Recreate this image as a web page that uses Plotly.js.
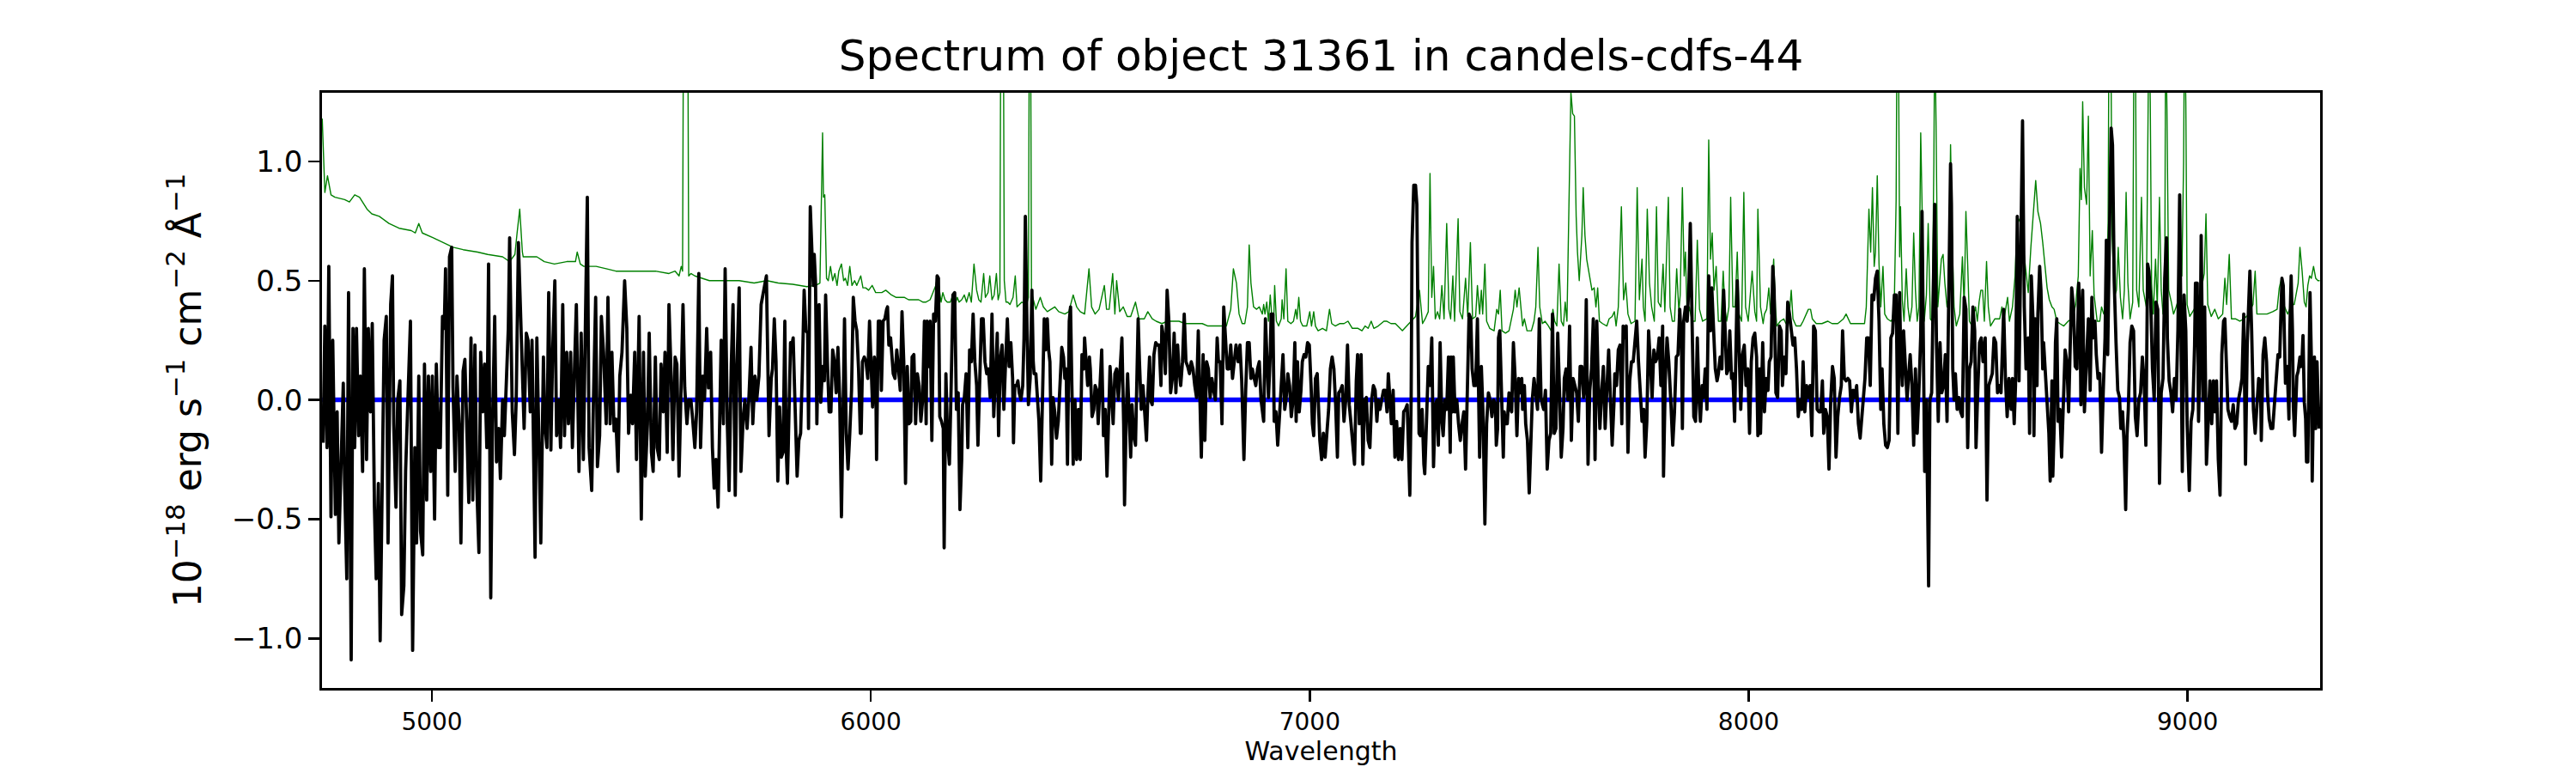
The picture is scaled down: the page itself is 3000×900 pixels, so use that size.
<!DOCTYPE html>
<html>
<head>
<meta charset="utf-8">
<script src="https://cdn.plot.ly/plotly-3.0.1.min.js"></script>
<style>
html, body { margin: 0; padding: 0; background: #ffffff; }
#chart { width: 3000px; height: 900px; }
.scatterlayer path.js-line { stroke-linejoin: round; }
</style>
</head>
<body>
<div id="chart"></div>
<script>
// Observed flux: [wavelength (Å), flux (1e-18 erg/s/cm2/Å)]
const fluxPoints = [
[4752,-0.18],[4756,0.31],[4761,-0.2],[4765,0.56],[4770,-0.49],[4774,0.25],[4780,-0.48],[4784,-0.05],[4788,-0.6],[4792,-0.3],[4798,0.07],[4801,-0.35],[4806,-0.75],[4810,0.45],[4816,-1.09],[4820,0.3],[4824,-0.2],[4828,0.3],[4833,-0.15],[4837,0.1],[4842,-0.3],[4846,0.55],[4851,-0.25],[4855,0.3],[4860,-0.05],[4864,0.32],[4869,-0.45],[4873,-0.75],[4878,-0.35],[4882,-1.01],[4887,-0.35],[4891,0.25],[4896,0.35],[4900,-0.6],[4906,0.4],[4910,0.52],[4913,-0.1],[4918,-0.45],[4922,0],[4927,0.08],[4931,-0.9],[4936,-0.78],[4940,-0.3],[4946,0],[4951,0.33],[4956,-1.05],[4961,-0.2],[4965,-0.6],[4970,0.1],[4974,-0.55],[4979,-0.65],[4983,0.15],[4988,-0.42],[4992,0.1],[4997,-0.3],
[5001,0.1],[5006,-0.5],[5010,0.15],[5015,-0.2],[5019,-0.2],[5024,0.35],[5028,0.3],[5031,0.55],[5036,-0.4],[5040,0.6],[5045,0.64],[5048,0.05],[5053,-0.3],[5057,0.1],[5062,-0.1],[5066,-0.6],[5071,0.12],[5075,0.17],[5080,-0.15],[5084,-0.43],[5089,0.26],[5093,-0.42],[5098,0.23],[5102,-0.35],[5107,-0.64],[5111,0.2],[5116,-0.05],[5120,0.15],[5125,-0.2],[5129,0.57],[5134,-0.83],[5138,-0.1],[5143,0.35],[5147,-0.26],[5152,-0.12],[5156,-0.33],[5161,0],[5165,-0.15],[5170,0.1],[5174,0.3],[5177,0.68],[5183,-0.05],[5188,-0.23],[5192,0],[5197,0.66],[5201,0.45],[5206,0.15],[5210,-0.12],[5215,0.28],[5219,0.25],[5224,-0.05],[5228,0.25],[5235,-0.66],[5239,0.26],[5244,-0.2],[5248,-0.6],[5254,0.18],[5257,-0.1],[5262,-0.2],[5266,0.45],[5271,-0.21],[5275,0.2],[5280,0.5],[5284,-0.15],[5289,0],[5293,-0.2],[5298,0.4],[5302,-0.15],[5307,0.2],[5311,-0.1],[5316,0.2],[5320,-0.2],[5325,0.15],[5329,0.4],[5335,-0.3],[5340,0.28],[5345,-0.25],[5349,0.2],[5354,0.85],[5358,-0.2],[5364,-0.38],[5368,0],[5373,0.43],[5377,-0.28],[5382,-0.15],[5386,0.35],[5391,0.2],[5397,-0.1],[5401,0.43],[5406,-0.1],[5410,0.2],[5415,-0.13],[5419,-0.08],[5424,-0.3],[5428,0.1],[5433,0.2],[5439,0.5],[5444,0.3],[5448,-0.14],[5453,0.02],[5457,-0.1],[5462,0.2],[5466,-0.25],[5472,0.35],[5477,-0.5],[5482,0.2],[5486,-0.32],[5491,-0.1],[5495,0.28],[5500,-0.22],[5504,-0.3],[5509,0.18],[5513,-0.2],[5518,-0.25],[5522,0.15],[5527,-0.05],[5531,0.2],[5536,-0.22],[5540,0.4],[5545,0.1],[5549,-0.25],[5554,0.18],[5558,0.15],[5563,-0.32],[5567,-0.05],[5572,0.4],[5576,0.05],[5581,-0.1],[5585,0],[5590,0],[5594,-0.08],[5599,-0.2],[5603,-0.05],[5608,0.53],[5612,-0.2],[5617,0.1],[5621,0],[5626,0.3],[5630,0.05],[5635,0.2],[5639,-0.2],[5643,-0.37],[5647,-0.25],[5652,-0.45],[5655,-0.15],[5659,0.25],[5664,-0.1],[5668,0.55],[5673,-0.1],[5677,-0.38],[5682,0.15],[5686,0.4],[5691,-0.4],[5695,0.15],[5700,0.47],[5704,-0.3],[5709,-0.08],[5713,0],[5718,-0.12],[5722,0],[5727,0.22],[5731,-0.1],[5736,0.1],[5740,0],[5745,0.1],[5750,0.4],
[5762,0.52],[5768,-0.15],[5773,0.09],[5776,0.13],[5780,0.34],[5784,0.16],[5788,-0.34],[5792,-0.03],[5796,-0.24],[5800,-0.22],[5804,0.33],[5807,-0.2],[5810,-0.35],[5814,0.06],[5817,0.24],[5820,0.23],[5823,0.26],[5826,0.06],[5828,-0.12],[5832,-0.32],[5836,-0.17],[5840,-0.14],[5844,0.13],[5848,0.46],[5852,0.29],[5856,0.28],[5858,-0.12],[5862,0.81],[5866,0.61],[5869,0.48],[5871,0.61],[5874,0.49],[5877,-0.1],[5879,0.16],[5882,0.4],[5886,-0.01],[5890,0.14],[5894,0.08],[5897,0.44],[5901,0.16],[5905,-0.05],[5909,-0.05],[5913,0.21],[5917,0.16],[5921,0.03],[5925,0.22],[5929,0.01],[5933,-0.49],[5937,-0.04],[5940,0.34],[5944,-0.14],[5948,-0.29],[5952,-0.14],[5956,0.04],[5960,0.43],[5964,0.33],[5968,0.29],[5972,0.13],[5976,-0.14],[5978,-0.14],[5981,0.16],[5985,0.18],[5989,0.16],[5993,0.09],[5997,0.33],
[6000,0.19],[6004,-0.03],[6008,0.18],[6011,0.13],[6013,-0.25],[6017,0.33],[6021,0.33],[6024,0.04],[6028,0.33],[6032,0.34],[6036,0.38],[6038,0.39],[6041,0.23],[6045,0.26],[6049,0.16],[6051,0.11],[6055,0.09],[6059,0.21],[6063,0.13],[6067,0.04],[6071,0.37],[6075,0.16],[6079,-0.35],[6083,0.14],[6087,-0.1],[6091,-0.09],[6094,0.18],[6098,0.19],[6102,-0.1],[6106,0.11],[6110,0.06],[6114,-0.09],[6118,0],[6122,0.33],[6126,-0.1],[6128,0.33],[6132,0.14],[6135,0.33],[6139,-0.17],[6143,0.36],[6147,0.33],[6151,0.52],[6154,0.51],[6157,-0.07],[6161,-0.09],[6165,-0.12],[6167,-0.62],[6171,0.11],[6175,-0.17],[6179,-0.27],[6183,0.06],[6187,0.44],[6191,0.45],[6195,-0.04],[6199,0.03],[6203,-0.46],[6207,-0.25],[6209,-0.02],[6213,0.01],[6217,0.11],[6221,-0.2],[6225,0.21],[6229,0.16],[6233,0.36],[6237,0.16],[6241,0.06],[6244,-0.19],[6248,0.13],[6252,0.34],[6256,0.34],[6260,0.16],[6264,0.11],[6268,0.13],[6272,0.01],[6276,0.36],[6280,-0.07],[6284,0.14],[6288,0.28],[6291,-0.15],[6295,0.17],[6299,0.23],[6303,-0.04],[6307,0.16],[6311,0.34],[6315,0.14],[6319,0.24],[6323,0.09],
[6325,-0.18],[6328,0.06],[6332,0.06],[6335,0.08],[6338,0.03],[6342,0],[6346,0.06],[6349,0.26],[6352,0.77],[6355,0.39],[6359,-0.02],[6363,0.09],[6367,0.46],[6370,0.16],[6372,0.11],[6376,0.11],[6380,0.01],[6383,-0.09],[6387,-0.34],[6389,-0.12],[6392,0.16],[6395,0.34],[6398,0.21],[6402,0.34],[6405,0.21],[6408,0.16],[6412,-0.27],[6415,0.01],[6419,-0.05],[6423,-0.16],[6427,-0.09],[6431,0.04],[6435,0.22],[6439,0.18],[6442,0.09],[6445,0.13],[6448,-0.27],[6452,0.33],[6455,0.39],[6458,0.06],[6461,-0.27],[6465,0],[6469,-0.25],[6473,-0.04],[6477,-0.25],[6481,0.19],[6485,0.13],[6487,0.26],[6490,0.19],[6494,0.06],[6498,0.18],[6500,0.13],[6504,-0.07],[6508,-0.04],[6511,0.06],[6515,0.04],[6518,-0.1],[6522,0.06],[6526,0.21],[6530,-0.15],[6534,-0.04],[6538,-0.32],[6542,-0.02],[6545,0.14],[6549,0],[6552,-0.1],[6556,0.11],[6560,0.13],[6564,0],[6568,0.11],[6572,0.26],[6576,-0.1],[6578,-0.44],[6582,-0.05],[6585,0.11],[6588,-0.04],[6592,-0.24],[6595,-0.02],[6599,-0.15],[6603,-0.19],[6606,0.13],[6609,0.34],[6612,0.16],[6616,-0.04],[6620,0.06],[6624,-0.04],[6628,-0.17],[6631,0.01],[6635,0.18],[6637,0],[6641,-0.02],[6645,0.19],[6649,0.24],[6653,0.23],[6657,0.23],[6661,0.06],[6663,0.31],[6667,0.26],[6671,0.11],[6675,0.46],[6679,0.33],[6683,0.03],[6687,0.09],[6691,0.28],[6695,0.03],[6699,0.23],[6702,0.13],[6706,0.06],[6710,0.16],[6714,0.36],[6718,0.16],[6722,0.14],[6726,0.11],[6730,0.16],[6734,0.13],[6738,0.06],[6742,0.01],[6746,0.29],[6749,0.06],[6753,-0.24],[6757,0.19],[6761,-0.17],[6765,0.16],[6769,0.13],[6773,0.01],[6777,0.09],[6781,0.04],[6785,0],[6789,0.26],[6792,0.16],[6796,0.16],[6800,-0.1],[6804,0.39],[6808,0.23],[6812,0.13],[6816,0.13],[6820,0.23],[6824,0.09],[6828,0.18],[6832,0.23],[6837,0.16],[6841,0.23],[6845,0.08],[6850,-0.25],[6854,0.04],[6858,0.24],[6862,0.24],[6866,0.09],[6869,0.13],[6873,0.09],[6877,0.06],[6881,0.13],[6885,0.16],[6889,0],
[6895,-0.09],[6899,0.34],[6903,0.16],[6906,0.01],[6910,0.19],[6912,0.36],[6916,0.36],[6919,-0.09],[6923,-0.05],[6927,-0.19],[6931,-0.07],[6935,0.06],[6939,0.19],[6943,-0.04],[6946,0],[6950,0.11],[6954,0.06],[6958,-0.07],[6962,0],[6966,0.24],[6969,-0.09],[6972,0.16],[6976,-0.05],[6980,0.04],[6983,0.16],[6987,0.19],[6991,0.18],[6995,0.24],[6999,0.23],[7003,0.06],[7006,-0.1],[7009,-0.15],[7013,0.09],[7017,0.11],[7019,0],[7023,-0.17],[7027,-0.25],[7031,-0.14],[7035,-0.24],[7039,-0.14],[7043,-0.04],[7047,0.13],[7051,0.18],[7055,0.13],[7059,-0.02],[7063,-0.24],[7066,0.03],[7070,0.04],[7074,0.06],[7078,-0.09],[7082,0],[7086,0.23],[7090,-0.02],[7094,-0.1],[7098,-0.19],[7102,-0.27],[7106,0.08],[7109,0.19],[7113,-0.1],[7117,0.19],[7121,-0.27],[7125,0],[7129,0.01],[7133,-0.17],[7137,-0.2],[7141,0],[7145,0.06],[7149,0.04],[7153,-0.09],[7156,0],[7160,-0.04],[7164,0.01],[7168,0.04],[7172,0.04],[7176,-0.05],[7179,0.11],[7183,0],[7186,-0.1],[7190,0.04],[7194,-0.24],[7198,-0.09],[7202,-0.25],[7206,-0.12],[7210,-0.25],[7214,-0.05],[7218,-0.04],[7222,-0.02],[7226,-0.25],[7228,-0.4],[7231,0],[7233,0.66],[7237,0.9],[7241,0.9],[7244,0.82],[7246,0.49],[7249,-0.14],[7252,-0.15],[7256,-0.04],[7260,-0.27],[7262,-0.31],[7266,-0.09],[7270,0.14],[7274,0.06],[7278,0.26],[7282,-0.28],[7286,-0.02],[7290,0],[7293,-0.19],[7297,0.24],[7301,-0.09],[7304,-0.15],[7308,0],[7312,-0.04],[7316,0.18],[7320,-0.22],[7322,0.18],[7325,-0.05],[7327,0.18],[7331,-0.05],[7335,0],[7339,-0.1],[7343,-0.17],[7347,-0.1],[7351,-0.05],[7355,-0.29],[7359,-0.02],[7363,0.36],[7367,0.34],[7370,0.13],[7374,0.06],[7378,0.06],[7382,0.34],[7385,0.08],[7387,-0.24],[7391,0.14],[7395,-0.07],[7399,-0.52],[7403,-0.1],[7407,0.03],[7411,0],[7415,-0.07],[7419,0],[7423,-0.02],[7425,-0.19],[7428,-0.12],[7430,0.26],[7433,0.29],[7437,-0.02],[7441,-0.24],[7443,-0.05],[7446,-0.1],[7450,-0.1],[7454,0.03],[7458,-0.04],
[7460,-0.05],[7464,0.24],[7468,0.09],[7472,-0.15],[7476,0.09],[7479,0.03],[7483,0.09],[7485,-0.04],[7489,0.06],[7492,-0.1],[7496,-0.17],[7500,-0.39],[7504,-0.17],[7507,0],[7511,0.09],[7515,0.01],[7519,-0.04],[7523,0.34],[7527,0.01],[7530,-0.02],[7533,-0.04],[7537,0.04],[7541,-0.29],[7545,-0.17],[7549,-0.14],[7553,0.36],[7557,-0.14],[7561,-0.12],[7565,0.28],[7569,0.04],[7573,-0.24],[7577,-0.12],[7580,0.09],[7584,0.13],[7588,0],[7592,0.31],[7596,-0.17],[7600,0.09],[7604,0.06],[7608,0.03],[7612,-0.09],[7616,0.14],[7620,0.14],[7624,0.01],[7627,0.06],[7630,0.42],[7634,-0.27],[7638,0.04],[7642,0.13],[7646,0.34],[7650,-0.25],[7654,0.33],[7657,0.09],[7661,-0.12],[7665,0.03],[7669,0.14],[7673,-0.12],[7677,0.03],[7681,0.21],[7685,0.01],[7689,-0.19],[7693,-0.02],[7695,0.11],[7699,0.06],[7703,0.21],[7707,0.23],[7711,-0.1],[7714,0.31],[7717,0.26],[7721,0.31],[7725,-0.22],[7729,0.08],[7733,0.16],[7737,0.16],[7741,0.23],[7745,0.33],[7749,0.16],[7753,0.03],[7757,-0.09],[7761,-0.04],[7764,-0.24],[7768,-0.09],[7772,0.29],[7776,0.16],[7780,0.01],[7784,0.21],[7788,0.16],[7792,0.18],[7796,0.26],[7800,0.06],[7804,0.31],[7806,-0.32],[7810,0.08],[7814,0.26],[7818,0.16],[7823,-0.02],[7827,-0.19],[7831,-0.05],[7835,0.18],[7839,0.19],[7843,0.38],[7847,0.23],[7849,-0.12],[7852,0.33],[7856,0.39],[7860,0.33],[7864,0.49],[7867,0.74],[7871,0.39],[7875,-0.07],[7879,-0.09],[7883,0.26],[7887,0],[7890,-0.09],[7894,0.06],[7897,0.01],[7901,0.13],[7905,-0.04],[7909,0.52],[7913,0.29],[7916,0.47],[7920,0.26],[7924,0.13],[7928,0.08],[7931,0.11],[7935,0.18],[7939,0.13],[7943,0.46],[7946,0.26],[7950,0.11],[7954,0.13],[7957,0.29],[7961,0.09],[7964,0.11],[7968,-0.09],[7972,0.34],[7974,0.5],[7978,0.23],[7982,-0.04],[7986,0.19],[7990,0.23],[7994,0.06],[7998,0.13],[8002,-0.14],[8006,0.16],[8010,0.26],[8014,0.28],[8018,0.18],[8021,-0.15],[8025,0.13],
[8027,-0.14],[8032,0.24],[8036,-0.05],[8040,0.09],[8044,0.04],[8047,0.16],[8051,0.18],[8055,0.56],[8058,0.46],[8062,0.03],[8066,0.01],[8070,0.31],[8074,0.29],[8077,0.06],[8081,0.18],[8085,0.11],[8089,0.41],[8093,0.36],[8097,0.29],[8101,0.23],[8105,0.26],[8109,0.13],[8113,-0.07],[8117,0],[8121,-0.04],[8124,0.16],[8128,-0.05],[8132,0.06],[8136,0.01],[8140,0.06],[8144,-0.15],[8148,0.31],[8152,0.29],[8156,-0.04],[8160,-0.05],[8164,-0.05],[8168,0.08],[8171,-0.14],[8175,-0.04],[8179,-0.07],[8183,-0.29],[8187,0],[8191,0.14],[8195,0.09],[8199,-0.24],[8203,-0.07],[8207,0.01],[8211,0.06],[8214,0.29],[8218,0.09],[8222,0.08],[8226,0.09],[8230,0.08],[8234,-0.05],[8238,0.04],[8242,0.01],[8246,0.06],[8250,-0.1],[8254,-0.16],[8258,-0.07],[8261,0],[8265,0.09],[8269,0.26],[8273,0.26],[8277,0.06],[8281,0.44],[8285,0.42],[8289,0.51],[8293,0.54],[8297,0.33],[8301,-0.04],[8304,0.13],[8308,-0.1],[8312,-0.19],[8316,-0.2],[8320,-0.17],[8324,0.26],[8328,0.28],[8332,0.44],[8336,0.44],[8340,-0.14],[8344,0.45],[8346,0.23],[8350,0.06],[8353,0.29],[8357,0.16],[8361,0],[8364,0.09],[8368,0.19],[8372,0.06],[8376,-0.19],[8380,0.13],[8384,-0.14],[8388,0.04],[8392,0.27],[8395,0.79],[8398,0.29],[8401,-0.3],[8405,0],[8408,-0.63],[8410,-0.78],[8413,0],[8417,0.03],[8421,0.49],[8424,0.82],[8428,0.23],[8432,-0.09],[8436,0.24],[8440,0.03],[8444,0.06],[8448,0.19],[8452,-0.09],[8456,0.39],[8460,0.99],[8462,0.82],[8465,0.13],[8468,0],[8471,0.11],[8475,-0.04],[8479,0.01],[8483,-0.05],[8487,-0.07],[8491,0.43],[8495,0.38],[8499,-0.2],[8503,0.13],[8507,0.16],[8511,0.39],[8515,0.29],[8518,-0.2],[8522,0.04],[8526,0.24],[8530,0.26],[8534,0.16],[8539,0.26],[8543,-0.42],[8547,0.06],[8551,0.09],[8555,0.11],[8559,0.26],[8563,0.24],[8567,0.03],[8571,0.06],[8575,0.03],[8578,0.23],[8581,0.38],[8585,0.09],[8589,-0.07],[8593,0.09],
[8598,-0.04],[8601,0.09],[8605,-0.1],[8608,0.06],[8612,0.77],[8616,0.08],[8620,0.66],[8624,1.17],[8628,0.39],[8632,0.13],[8635,0.16],[8637,0.26],[8640,-0.14],[8644,0.52],[8648,0.33],[8650,-0.15],[8653,0.34],[8657,0.06],[8659,0.36],[8663,0.56],[8666,0.46],[8670,0.13],[8672,0.24],[8676,0.13],[8680,0],[8684,-0.14],[8687,-0.34],[8691,0.08],[8693,-0.32],[8696,-0.12],[8699,0.24],[8702,0.34],[8705,-0.09],[8709,-0.04],[8713,-0.24],[8717,0.04],[8721,0.21],[8725,0.16],[8729,-0.05],[8732,0.18],[8736,0.47],[8740,0.39],[8744,0.14],[8748,0.13],[8752,0.49],[8755,0.34],[8757,-0.02],[8761,0.46],[8765,-0.05],[8768,0.09],[8770,0.16],[8774,0.34],[8778,0.04],[8782,0.43],[8785,0.26],[8789,0.33],[8792,0.19],[8796,0.09],[8800,0.11],[8804,-0.22],[8808,0.04],[8812,0.26],[8815,0.67],[8818,0.19],[8822,0.69],[8826,1.14],[8829,1.07],[8833,0.49],[8837,0.24],[8841,0.04],[8845,0.01],[8848,-0.12],[8852,-0.05],[8855,-0.17],[8859,-0.46],[8862,-0.15],[8865,-0.04],[8869,0.24],[8873,0.31],[8877,0.29],[8881,-0.07],[8885,-0.15],[8889,0],[8893,0.03],[8897,0.18],[8901,0.08],[8905,-0.19],[8909,0.57],[8912,0.54],[8916,0.42],[8920,0.13],[8924,0],[8928,0.41],[8932,0.38],[8936,-0.35],[8940,0.03],[8944,0.09],[8948,0.51],[8952,0.68],[8954,0.26],[8958,0.08],[8962,0.03],[8966,-0.05],[8970,0.09],[8974,0],[8978,0.29],[8982,0.86],[8985,0.33],[8988,-0.3],[8992,0.44],[8996,0.29],[8999,-0.1],[9004,-0.38],[9008,-0.09],[9012,-0.04],[9016,0.23],[9018,0.49],[9022,0.49],[9025,-0.09],[9029,0.26],[9031,0.69],[9035,0],[9039,0.39],[9043,-0.27],[9047,-0.09],[9051,0.08],[9055,-0.1],[9059,0.08],[9062,-0.05],[9066,0.08],[9070,-0.25],[9074,-0.4],[9078,0.19],[9082,0.33],[9085,0.34],[9089,0.06],[9092,-0.04],[9096,-0.07],[9100,-0.09],[9104,-0.02],[9108,-0.12],[9112,-0.1],[9116,0],[9120,0.04],[9124,0.09],[9128,0.36],[9132,-0.27],[9136,0.24],[9139,0.39],[9142,0.54],[9146,0.29],[9150,-0.04],[9154,-0.14],[9158,0],[9162,0.09],[9166,0.08],[9168,-0.17],[9172,0.19],[9176,0.26],[9180,0.16],
[9182,0.03],[9186,-0.08],[9190,-0.12],[9194,-0.12],[9198,-0.01],[9202,0.07],[9206,0.19],[9210,0.18],[9213,0.36],[9215,0.51],[9218,0.48],[9220,0.29],[9223,0.07],[9227,0.14],[9231,-0.08],[9233,0.29],[9236,0.52],[9239,0.29],[9241,-0.03],[9244,-0.15],[9246,-0.01],[9249,0.1],[9252,0.12],[9256,0.18],[9258,0.14],[9261,0.18],[9263,0.27],[9266,-0.01],[9269,-0.08],[9271,-0.26],[9274,-0.26],[9276,0.03],[9279,0.45],[9282,0.18],[9284,-0.34],[9287,0.03],[9289,0.18],[9292,-0.12],[9295,0.16],[9297,0.03],[9300,-0.12]
];

// Flux uncertainty (green): [wavelength (Å), sigma]
const errorPoints = [
[4750,1.18],[4756,0.87],[4762,0.94],[4770,0.86],[4779,0.85],[4801,0.84],[4812,0.83],[4824,0.86],[4835,0.85],[4852,0.8],[4863,0.78],[4880,0.77],[4902,0.74],[4925,0.72],[4953,0.71],[4962,0.7],[4970,0.74],[4978,0.7],[5003,0.68],[5026,0.66],[5048,0.64],[5071,0.63],[5104,0.62],[5127,0.61],[5161,0.6],[5177,0.58],[5189,0.61],[5194,0.7],[5200,0.8],[5206,0.62],[5208,0.6],[5222,0.6],[5239,0.6],[5256,0.58],[5279,0.57],[5307,0.58],[5327,0.58],[5331,0.62],[5338,0.57],[5346,0.56],[5374,0.56],[5397,0.55],[5419,0.54],[5464,0.54],[5509,0.54],[5540,0.53],[5554,0.54],[5563,0.52],[5568,0.56],[5571,0.54],[5573,1.6],[5583,1.6],[5585,0.52],[5590,0.53],[5599,0.52],[5632,0.5],[5666,0.5],[5700,0.5],[5734,0.49],
[5763,0.5],[5789,0.49],[5822,0.485],[5854,0.475],[5874,0.48],[5884,0.49],[5890,1.12],[5892,0.85],[5895,0.86],[5899,0.51],[5903,0.5],[5908,0.56],[5913,0.5],[5918,0.53],[5923,0.48],[5927,0.54],[5933,0.57],[5938,0.5],[5942,0.51],[5947,0.48],[5952,0.56],[5957,0.48],[5963,0.5],[5968,0.48],[5977,0.52],[5982,0.47],[5988,0.47],[5995,0.46],[6003,0.48],[6011,0.45],[6017,0.45],[6025,0.45],[6034,0.46],[6040,0.45],[6047,0.44],[6057,0.43],[6066,0.43],[6076,0.43],[6086,0.42],[6096,0.42],[6109,0.42],[6119,0.41],[6125,0.41],[6135,0.42],[6141,0.45],[6148,0.48],[6152,0.52],[6156,0.46],[6160,0.41],[6164,0.45],[6169,0.42],[6174,0.41],[6181,0.41],[6187,0.44],[6192,0.4],[6197,0.43],[6201,0.41],[6207,0.42],[6213,0.44],[6218,0.41],[6224,0.45],[6229,0.41],[6235,0.57],[6241,0.46],[6246,0.42],[6251,0.41],[6257,0.53],[6261,0.43],[6267,0.45],[6271,0.52],[6276,0.42],[6281,0.44],[6286,0.53],[6290,0.42],[6294,0.45],[6296,1.6],[6302,1.6],[6304,0.5],[6308,0.41],[6312,0.41],[6317,0.4],
[6324,0.43],[6329,0.52],[6333,0.39],[6344,0.41],[6355,0.4],[6359,0.43],[6361,1.6],[6364,1.6],[6366,0.45],[6370,0.42],[6376,0.38],[6386,0.43],[6393,0.39],[6402,0.37],[6412,0.38],[6419,0.39],[6428,0.37],[6442,0.36],[6451,0.37],[6461,0.44],[6469,0.39],[6477,0.37],[6487,0.36],[6497,0.55],[6503,0.39],[6511,0.36],[6520,0.38],[6532,0.48],[6537,0.38],[6543,0.38],[6551,0.53],[6556,0.36],[6560,0.5],[6567,0.37],[6575,0.39],[6584,0.35],[6592,0.35],[6603,0.41],[6611,0.34],[6623,0.34],[6631,0.37],[6641,0.34],[6650,0.33],[6663,0.32],[6676,0.33],[6689,0.33],[6702,0.33],[6716,0.32],[6729,0.32],[6742,0.32],[6755,0.32],[6768,0.31],[6781,0.31],[6794,0.31],[6810,0.31],[6820,0.38],[6826,0.55],[6833,0.49],[6839,0.36],[6846,0.32],[6852,0.32],[6858,0.39],[6862,0.65],[6866,0.49],[6872,0.39],[6879,0.38],[6885,0.39],
[6892,0.36],[6895,0.4],[6898,0.36],[6902,0.41],[6906,0.33],[6910,0.44],[6914,0.34],[6918,0.33],[6920,0.48],[6924,0.33],[6929,0.31],[6935,0.34],[6937,0.42],[6941,0.34],[6946,0.55],[6950,0.33],[6957,0.32],[6963,0.33],[6968,0.38],[6971,0.34],[6975,0.43],[6979,0.33],[6984,0.31],[6993,0.31],[7000,0.37],[7004,0.31],[7009,0.37],[7013,0.31],[7019,0.29],[7029,0.3],[7038,0.29],[7045,0.38],[7050,0.32],[7058,0.31],[7068,0.32],[7078,0.32],[7087,0.33],[7097,0.3],[7110,0.3],[7119,0.29],[7126,0.31],[7133,0.3],[7140,0.33],[7146,0.3],[7156,0.31],[7169,0.33],[7175,0.33],[7185,0.32],[7195,0.32],[7201,0.31],[7211,0.29],[7221,0.31],[7231,0.33],[7241,0.35],[7250,0.46],[7257,0.32],[7263,0.34],[7270,0.37],[7274,0.95],[7278,0.43],[7282,0.56],[7286,0.34],[7291,0.37],[7296,0.34],[7301,0.48],[7306,0.34],[7312,0.74],[7317,0.38],[7321,0.34],[7326,0.52],[7330,0.33],[7338,0.76],[7342,0.37],[7348,0.34],[7355,0.51],[7360,0.35],[7366,0.66],[7371,0.34],[7378,0.35],[7382,0.48],[7387,0.36],[7391,0.46],[7394,0.36],[7399,0.57],[7403,0.33],[7410,0.3],[7420,0.29],[7426,0.38],[7430,0.36],[7434,0.46],[7438,0.29],[7446,0.28],[7454,0.29],
[7459,0.33],[7464,0.38],[7468,0.46],[7472,0.39],[7477,0.47],[7481,0.38],[7485,0.31],[7489,0.34],[7495,0.29],[7505,0.29],[7511,0.33],[7515,0.39],[7520,0.64],[7524,0.39],[7530,0.32],[7536,0.33],[7544,0.31],[7550,0.29],[7554,0.38],[7558,0.33],[7563,0.31],[7568,0.57],[7573,0.33],[7578,0.31],[7582,0.41],[7586,0.33],[7591,0.91],[7595,1.29],[7599,1.2],[7603,1.19],[7607,0.77],[7610,0.62],[7614,0.5],[7620,0.69],[7623,0.89],[7627,0.69],[7631,0.59],[7635,0.55],[7639,0.51],[7643,0.46],[7648,0.47],[7652,0.39],[7656,0.47],[7660,0.33],[7667,0.32],[7677,0.31],[7682,0.34],[7689,0.35],[7694,0.37],[7698,0.31],[7703,0.39],[7710,0.81],[7715,0.42],[7720,0.49],[7725,0.36],[7732,0.32],[7741,0.33],[7746,0.89],[7751,0.42],[7757,0.59],[7760,0.39],[7764,0.33],[7769,0.8],[7774,0.49],[7779,0.39],[7785,0.33],[7790,0.81],[7794,0.41],[7800,0.39],[7805,0.57],[7809,0.37],[7817,0.85],[7821,0.39],[7826,0.33],[7831,0.33],[7836,0.55],[7841,0.37],[7844,0.44],[7849,0.89],[7853,0.52],[7856,0.62],[7860,0.34],[7865,0.39],[7871,0.33],[7878,0.33],[7883,0.67],[7888,0.38],[7895,0.33],[7905,0.34],[7909,1.09],[7913,0.59],[7917,0.7],[7921,0.46],[7926,0.56],[7931,0.33],[7937,0.33],[7942,0.54],[7946,0.38],[7950,0.33],[7955,0.39],[7959,0.85],[7964,0.39],[7969,0.39],[7974,0.62],[7978,0.36],[7984,0.33],[7989,0.87],[7993,0.39],[7999,0.33],[8008,0.54],[8014,0.37],[8018,0.33],[8021,0.8],
[8027,0.39],[8033,0.32],[8036,0.36],[8041,0.38],[8046,0.47],[8050,0.36],[8054,0.49],[8057,0.59],[8061,0.39],[8064,0.31],[8072,0.33],[8080,0.34],[8085,0.32],[8092,0.34],[8097,0.46],[8101,0.34],[8108,0.31],[8118,0.31],[8124,0.33],[8131,0.36],[8136,0.38],[8141,0.38],[8145,0.34],[8154,0.32],[8167,0.32],[8180,0.33],[8190,0.32],[8203,0.32],[8216,0.34],[8222,0.36],[8232,0.32],[8245,0.32],[8258,0.32],[8264,0.32],[8268,0.39],[8272,0.62],[8274,0.8],[8278,0.62],[8282,0.89],[8286,0.56],[8289,0.62],[8293,0.94],[8297,0.57],[8301,0.39],[8306,0.56],[8310,0.36],[8316,0.34],[8324,0.33],[8328,0.34],[8332,0.42],[8336,0.84],[8338,1.6],[8341,1.6],[8344,0.6],[8346,0.81],[8350,0.42],[8354,0.33],[8359,0.55],[8363,0.39],[8367,0.33],[8372,0.39],[8376,0.7],[8380,0.46],[8384,0.33],[8388,0.39],[8392,1.12],[8396,0.74],[8400,0.33],[8405,0.44],[8409,0.74],[8414,0.34],[8418,0.33],[8422,1.0],[8424,1.6],[8427,1.15],[8431,0.39],[8435,0.49],[8439,0.59],[8443,0.61],[8447,0.49],[8452,0.39],[8456,0.44],[8460,1.07],[8464,0.65],[8468,0.39],[8473,0.31],[8481,0.36],[8483,0.43],[8487,0.6],[8491,0.39],[8495,0.79],[8499,0.57],[8503,0.33],[8509,0.31],[8513,0.36],[8517,0.39],[8521,0.33],[8525,0.41],[8529,0.46],[8533,0.46],[8537,0.33],[8542,0.58],[8546,0.39],[8551,0.31],[8561,0.34],[8572,0.34],[8577,0.39],[8581,0.33],[8586,0.39],[8590,0.43],
[8594,0.33],[8601,0.39],[8607,0.52],[8612,0.77],[8620,0.74],[8630,0.57],[8637,0.45],[8643,0.64],[8650,0.82],[8654,0.92],[8659,0.79],[8665,0.74],[8670,0.66],[8675,0.56],[8680,0.47],[8685,0.42],[8691,0.39],[8696,0.38],[8702,0.33],[8709,0.32],[8718,0.31],[8728,0.33],[8738,0.34],[8745,0.4],[8751,0.52],[8755,0.97],[8758,0.84],[8761,1.25],[8765,0.89],[8770,0.82],[8774,1.19],[8778,0.52],[8783,0.71],[8787,0.44],[8794,0.33],[8800,0.33],[8804,0.39],[8809,0.36],[8815,0.39],[8819,0.75],[8821,1.6],[8825,1.6],[8828,0.69],[8833,0.43],[8838,0.46],[8842,0.64],[8847,0.43],[8852,0.34],[8856,0.46],[8860,0.87],[8864,0.49],[8869,0.34],[8875,0.41],[8878,1.6],[8881,1.6],[8884,0.46],[8889,0.39],[8895,0.85],[8899,0.46],[8906,0.39],[8912,1.6],[8915,1.25],[8918,0.49],[8922,0.36],[8927,0.59],[8931,0.39],[8936,0.85],[8940,0.46],[8944,0.36],[8948,0.46],[8950,1.6],[8953,1.22],[8957,0.46],[8963,0.41],[8968,0.36],[8974,0.39],[8979,0.42],[8983,0.55],[8987,0.52],[8991,1.0],[8993,1.6],[8996,1.25],
[8999,0.4],[9005,0.35],[9015,0.38],[9025,0.43],[9032,0.47],[9038,0.53],[9042,0.78],[9046,0.4],[9054,0.35],[9062,0.38],[9070,0.34],[9080,0.36],[9085,0.51],[9089,0.4],[9095,0.61],[9100,0.34],[9109,0.34],[9119,0.33],[9129,0.34],[9139,0.36],[9149,0.4],[9154,0.54],[9158,0.36],[9168,0.36],[9181,0.36],[9194,0.37],[9204,0.38],[9209,0.47],[9214,0.51],[9219,0.4],[9228,0.36],[9237,0.4],[9243,0.4],[9252,0.49],[9256,0.64],[9261,0.54],[9266,0.41],[9270,0.39],[9274,0.48],[9278,0.52],[9282,0.51],[9287,0.56],[9292,0.51],[9297,0.5],[9301,0.5]
];

// Model (blue), flat at zero over the fitted range
const modelWave = [4750, 9266];
const modelFlux = [0, 0];

const xTickVals = [5000, 6000, 7000, 8000, 9000];
const yTickVals = [-1.0, -0.5, 0.0, 0.5, 1.0];

const titleText = 'Spectrum of object 31361 in candels-cdfs-44';
const xLabel = 'Wavelength';
const yLabel = '10<sup>\u221218</sup> erg s<sup>\u22121</sup> cm<sup>\u22122</sup> \u00C5<sup>\u22121</sup>';

const FONT = 'DejaVu Sans, Liberation Sans, sans-serif';

const traces = [
  {
    x: errorPoints.map(p => p[0]), y: errorPoints.map(p => p[1]),
    type: 'scatter', mode: 'lines', line: {color: '#008000', width: 1.4},
    hoverinfo: 'skip', showlegend: false
  },
  {
    x: modelWave, y: modelFlux,
    type: 'scatter', mode: 'lines', line: {color: '#0000ff', width: 5.5},
    hoverinfo: 'skip', showlegend: false
  },
  {
    x: fluxPoints.map(p => p[0]), y: fluxPoints.map(p => p[1]),
    type: 'scatter', mode: 'lines', line: {color: '#000000', width: 3.8},
    hoverinfo: 'skip', showlegend: false
  }
];

const layout = {
  width: 3000, height: 900,
  paper_bgcolor: '#ffffff', plot_bgcolor: '#ffffff',
  margin: {l: 375, r: 298, t: 108, b: 99, pad: 0},
  showlegend: false,
  font: {family: FONT, color: '#000000'},
  title: {
    text: titleText,
    font: {family: FONT, size: 50, color: '#000000'},
    x: 0.5, xref: 'paper', xanchor: 'center',
    y: 1 - 64 / 900, yref: 'container', yanchor: 'middle'
  },
  xaxis: {
    range: [4749.5, 9302],
    tickmode: 'array', tickvals: xTickVals,
    ticktext: xTickVals.map(v => String(v)),
    ticks: 'outside', ticklen: 13, tickwidth: 2.5, tickcolor: '#000000',
    tickfont: {family: FONT, size: 28, color: '#000000'},
    showline: true, linecolor: '#000000', linewidth: 2.8, mirror: true,
    showgrid: false, zeroline: false,
    title: {text: xLabel, font: {family: FONT, size: 30, color: '#000000'}, standoff: 2}
  },
  yaxis: {
    range: [-1.208, 1.288],
    tickmode: 'array', tickvals: yTickVals,
    ticktext: yTickVals.map(v => (v < 0 ? '\u2212' : '') + Math.abs(v).toFixed(1)),
    ticks: 'outside', ticklen: 13, tickwidth: 2.5, tickcolor: '#000000',
    tickfont: {family: FONT, size: 34, color: '#000000'},
    showline: true, linecolor: '#000000', linewidth: 2.8, mirror: true,
    showgrid: false, zeroline: false,
    title: {text: yLabel, font: {family: FONT, size: 44, color: '#000000'}, standoff: 22}
  }
};

Plotly.newPlot('chart', traces, layout, {staticPlot: true, displayModeBar: false});
</script>
</body>
</html>
